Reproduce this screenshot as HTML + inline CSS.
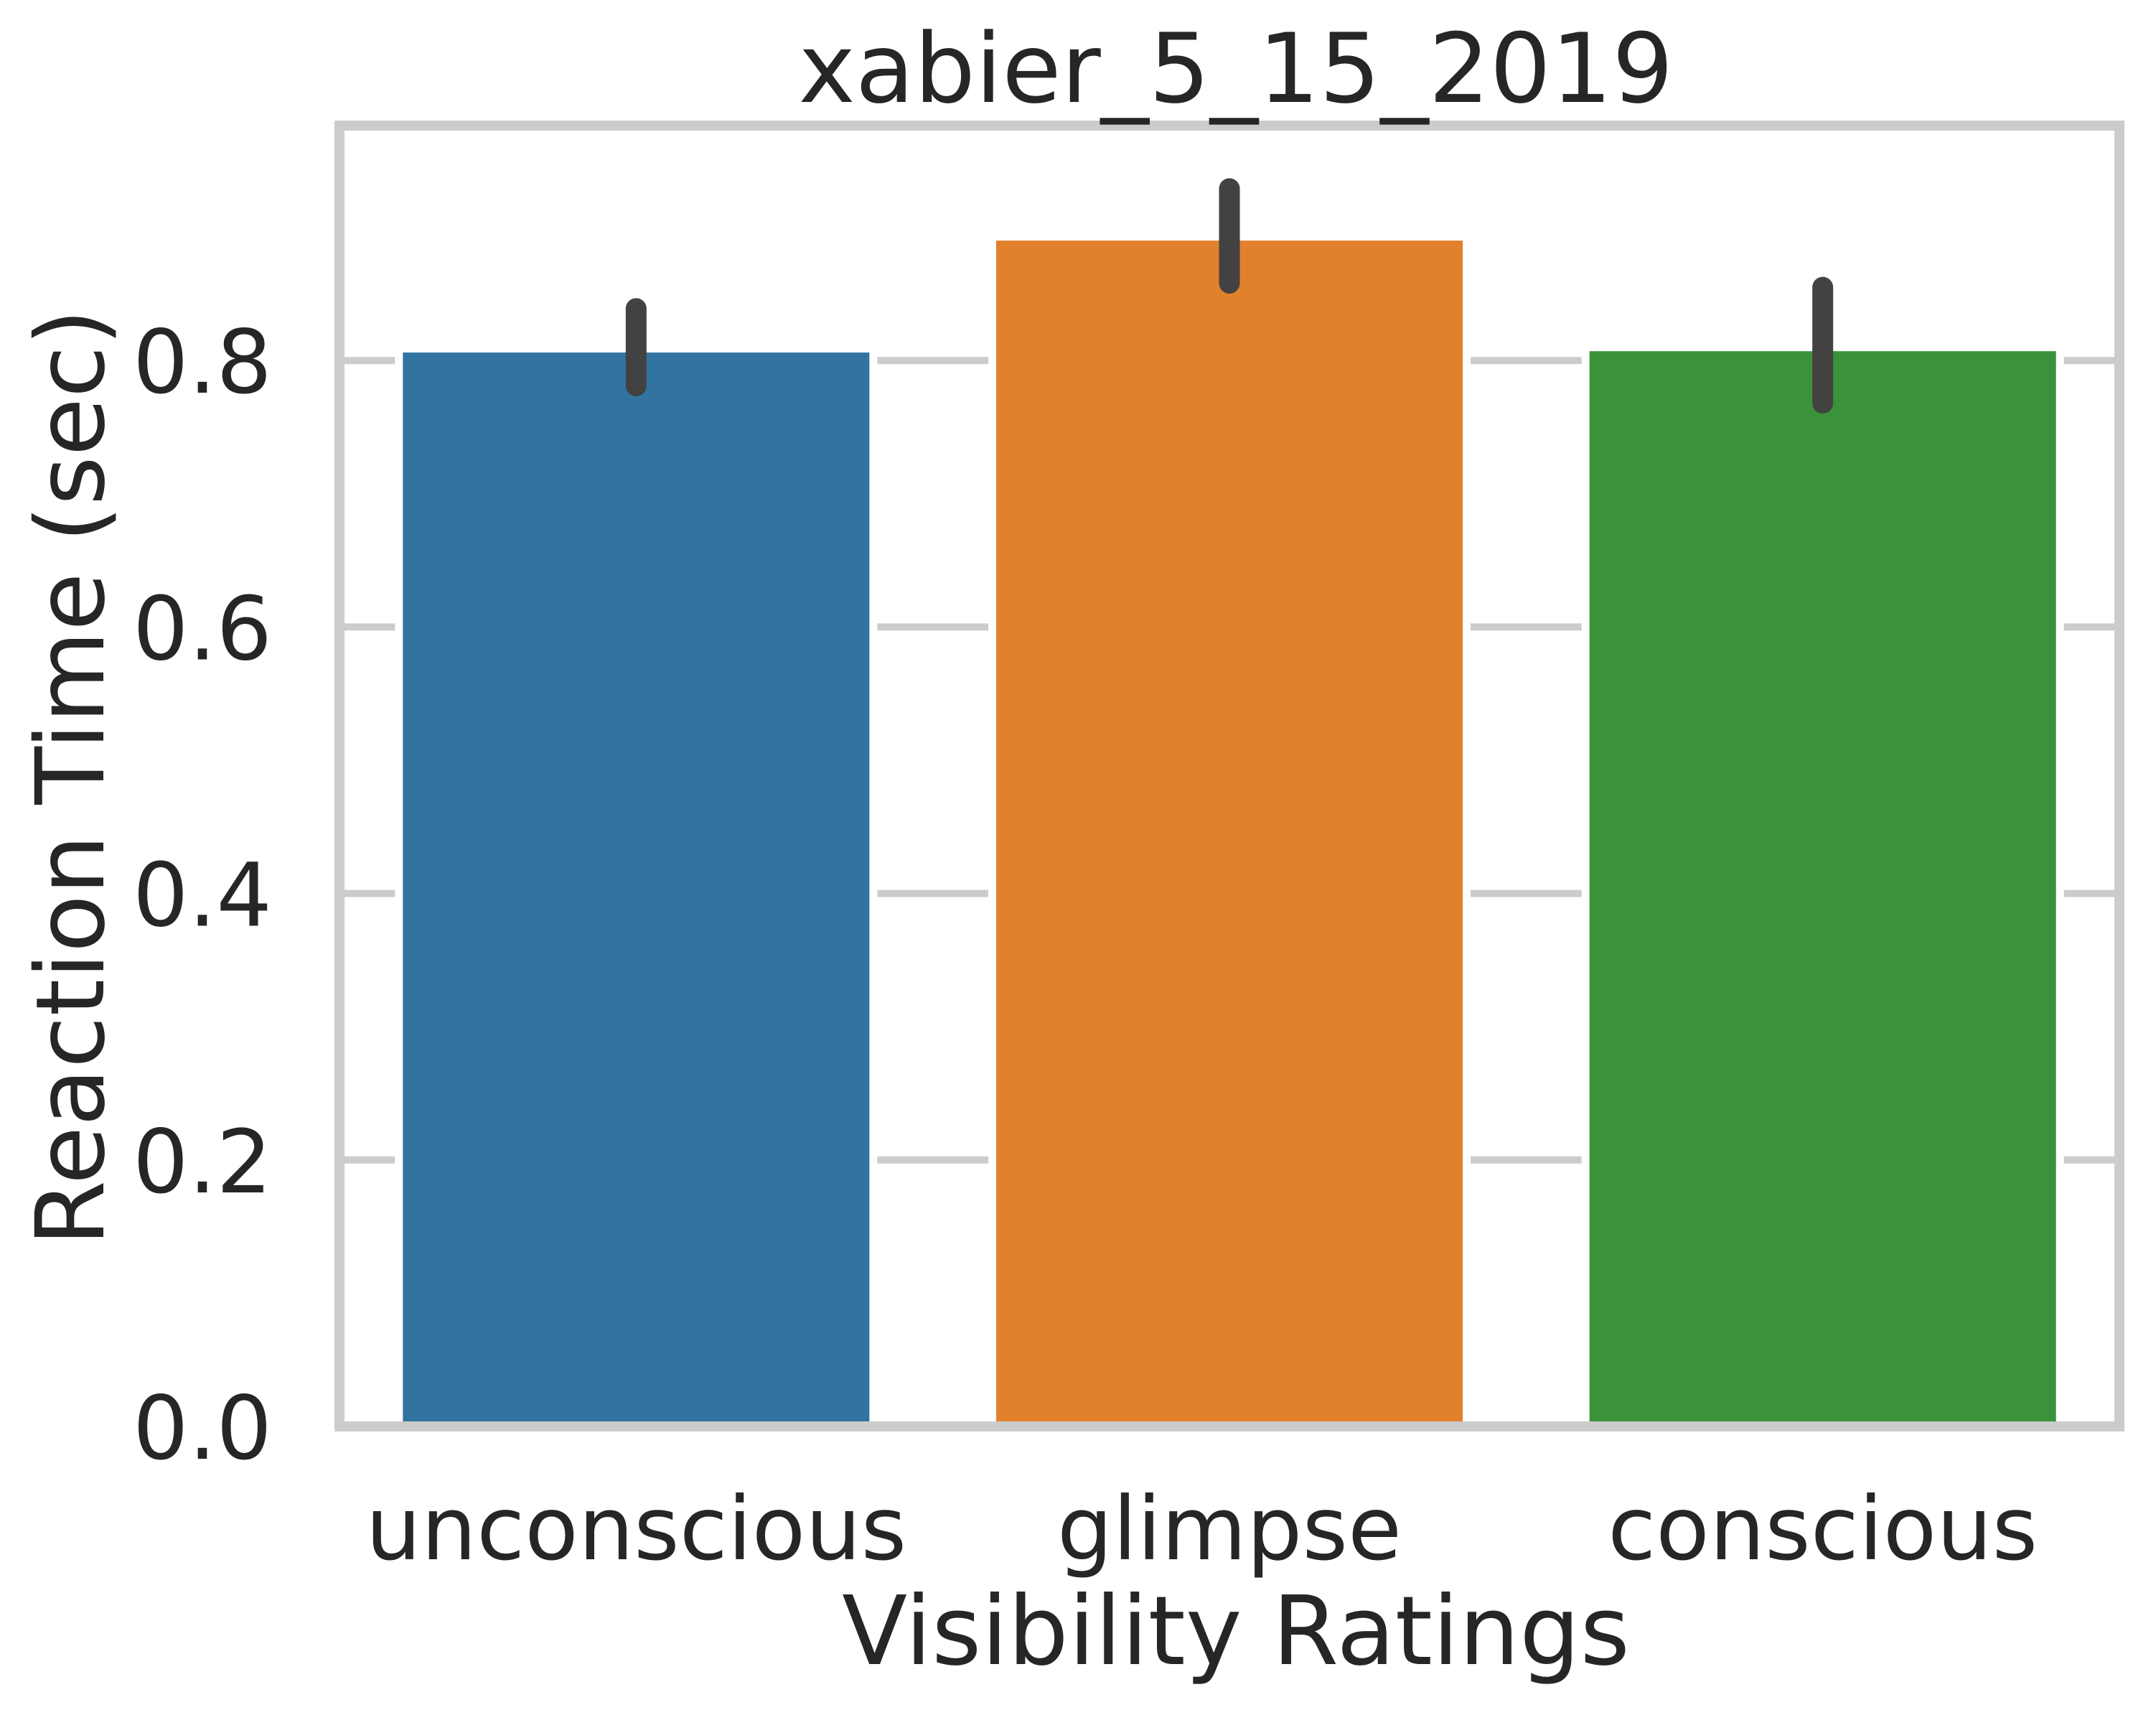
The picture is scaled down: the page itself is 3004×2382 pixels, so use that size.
<!DOCTYPE html>
<html><head><meta charset="utf-8"><style>
html,body{margin:0;padding:0;background:#fff}
svg{display:block}
text{font-family:"DejaVu Sans","Liberation Sans",sans-serif;fill:#262626}
</style></head><body>
<svg id="chart" width="3004" height="2382" viewBox="0 0 3004 2382" xmlns="http://www.w3.org/2000/svg">
<rect x="0" y="0" width="3004" height="2382" fill="#fff"/>
<g id="grid"></g>
<g id="bars"></g>
<g id="errs"></g>
<rect x="473" y="175" width="2480" height="1812" fill="none" stroke="#cccccc" stroke-width="14"/>
<g id="yticks"></g>
<g id="xticks"></g>
<text x="1722" y="142" font-size="134" text-anchor="middle">xabier_5_15_2019</text>
<text x="1722" y="2318" font-size="133" text-anchor="middle">Visibility Ratings</text>
<text x="0" y="0" font-size="132" text-anchor="middle" transform="translate(144,1083) rotate(-90)">Reaction Time (sec)</text>
</svg>
<script>
const categories = ["unconscious", "glimpse", "conscious"];
const values = [0.806, 0.890, 0.807];
const errLow = [0.781, 0.858, 0.768];
const errHigh = [0.839, 0.929, 0.855];
const colors = ["#3274a1", "#e1812c", "#3a923a"];
const yTicks = [0.0, 0.2, 0.4, 0.6, 0.8];
const yTickLabels = ["0.0", "0.2", "0.4", "0.6", "0.8"];

const NS = "http://www.w3.org/2000/svg";
const plotL = 473, plotR = 2953, y0px = 1987, pxPerUnit = 1856;
const yScale = v => y0px - v * pxPerUnit;
const band = (plotR - plotL) / categories.length;
const xCenter = i => plotL + band * (i + 0.5);
const barW = 650;

function mk(tag, attrs, parent) {
  const el = document.createElementNS(NS, tag);
  for (const k in attrs) el.setAttribute(k, attrs[k]);
  parent.appendChild(el);
  return el;
}
const grid = document.getElementById('grid');
const yt = document.getElementById('yticks');
yTicks.forEach((t, i) => {
  const y = yScale(t);
  const g = mk('line', {x1: plotL, x2: plotR, y1: y, y2: y, stroke: '#cccccc', 'stroke-width': 10}, grid);
  
  
  const tx = mk('text', {x: 379, y: y + 45, 'font-size': 122, 'text-anchor': 'end'}, yt);
  tx.textContent = yTickLabels[i];
  
  
});
const bars = document.getElementById('bars');
const errs = document.getElementById('errs');
const xt = document.getElementById('xticks');
categories.forEach((c, i) => {
  const cx = xCenter(i);
  const r = mk('rect', {x: cx - barW / 2, y: yScale(values[i]), width: barW, height: yScale(0) - yScale(values[i]), fill: colors[i], stroke: '#ffffff', 'stroke-width': 22, 'paint-order': 'stroke'}, bars);
  
  
  const e = mk('line', {x1: cx, x2: cx, y1: yScale(errLow[i]), y2: yScale(errHigh[i]), stroke: '#424242', 'stroke-width': 29, 'stroke-linecap': 'round'}, errs);
  
  
  const tx = mk('text', {x: cx, y: 2172, 'font-size': 122, 'text-anchor': 'middle'}, xt);
  tx.textContent = c;
  
  
});
</script>
</body></html>
